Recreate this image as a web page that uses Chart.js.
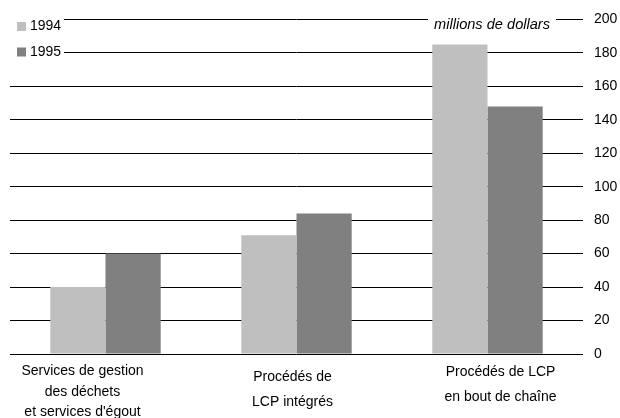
<!DOCTYPE html>
<html>
<head>
<meta charset="utf-8">
<script src="https://cdn.jsdelivr.net/npm/chart.js@4.4.0/dist/chart.umd.min.js"></script>
<style>
  html, body { margin: 0; padding: 0; background: #fff; }
</style>
</head>
<body>
<canvas id="chart" width="620" height="418"></canvas>
<script>
const categories = [
    ['Services de gestion', 'des déchets', "et services d'égout"],
    ['Procédés de', 'LCP intégrés'],
    ['Procédés de LCP', 'en bout de chaîne']
]
const seriesNames = ['1994', '1995']
const values1994 = [40, 71, 185]
const values1995 = [60, 84, 148]
const yTicks = [0, 20, 40, 60, 80, 100, 120, 140, 160, 180, 200]
const unitLabel = 'millions de dollars'

const colors = ['#bfbfbf', '#808080']
const font = '"Liberation Sans", Arial, sans-serif'

// category labels sit a little off the bar centres in the original
const labelNudge = [-23, -4, 13]
const labelTop = [21, 27, 22]
const labelStep = [20.5, 25, 25]

const overlay = {
    id: 'overlay',
    afterDatasetsDraw(chart) {
        const ctx = chart.ctx
        const xs = chart.scales.x
        const area = chart.chartArea
        ctx.save()
        ctx.font = `14px ${font}`
        ctx.textBaseline = 'middle'

        // legend, with white box cutting the grid lines
        ctx.fillStyle = '#fff'
        ctx.fillRect(0, area.top - 8, 64, 50)
        chart.data.datasets.forEach((ds, i) => {
            const cy = 26.5 + i * 25.5
            ctx.fillStyle = ds.backgroundColor
            ctx.fillRect(17, cy - 4.5, 9, 9)
            ctx.fillStyle = '#000'
            ctx.textAlign = 'left'
            ctx.fillText(ds.label, 30, cy)
        })

        // unit label at top right
        ctx.font = `italic 14.6px ${font}`
        const w = ctx.measureText(unitLabel).width
        const tx = area.right - 33 - w
        ctx.fillStyle = '#fff'
        ctx.fillRect(tx - 6, area.top - 6, w + 12, 18)
        ctx.fillStyle = '#000'
        ctx.fillText(unitLabel, tx, 25)

        // category labels
        ctx.font = `14px ${font}`
        ctx.textAlign = 'center'
        ctx.textBaseline = 'alphabetic'
        categories.forEach((lines, i) => {
            const cx = xs.getPixelForValue(i) + labelNudge[i]
            lines.forEach((line, j) => {
                ctx.fillText(line, cx, area.bottom + labelTop[i] + j * labelStep[i])
            })
        })
        ctx.restore()
    }
}

new Chart('chart', {
    type: 'bar',
    data: {
        labels: categories.map(c => c.join(' ')),
        datasets: [{
            label: seriesNames[0],
            data: values1994,
            backgroundColor: colors[0]
        }, {
            label: seriesNames[1],
            data: values1995,
            backgroundColor: colors[1]
        }]
    },
    options: {
        responsive: false,
        animation: false,
        layout: {
            padding: { left: 10, top: 18, right: 0, bottom: 64 }
        },
        categoryPercentage: 0.578,
        barPercentage: 1,
        plugins: {
            legend: { display: false },
            tooltip: { enabled: false }
        },
        scales: {
            x: {
                display: false
            },
            y: {
                position: 'right',
                min: 0,
                max: 200,
                afterBuildTicks: scale => {
                    scale.ticks = yTicks.map(v => ({ value: v }))
                },
                afterFit: scale => {
                    scale.width = 37
                },
                border: { display: false },
                grid: {
                    color: '#000',
                    lineWidth: 1,
                    drawTicks: false
                },
                ticks: {
                    padding: 11,
                    color: '#000',
                    font: { family: font, size: 14 }
                }
            }
        }
    },
    plugins: [overlay]
})
</script>
</body>
</html>
